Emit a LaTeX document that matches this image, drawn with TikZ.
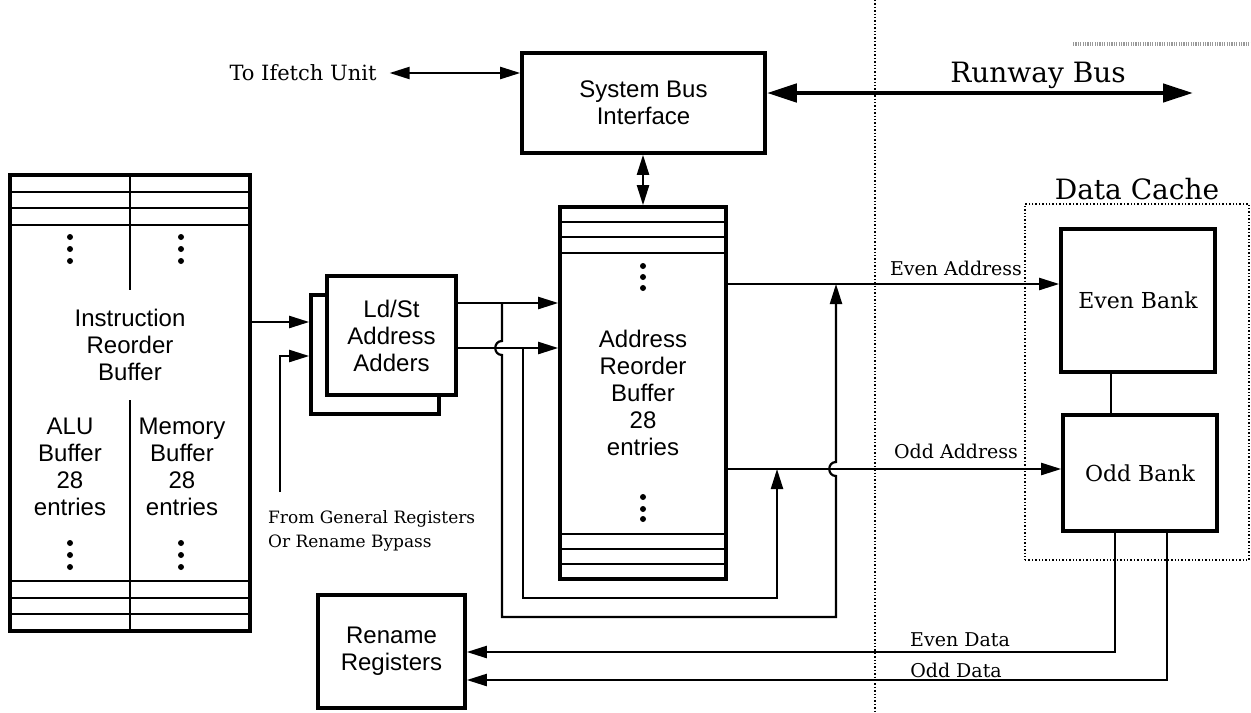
\documentclass[tikz,border=0pt]{standalone}
\usepackage{fontspec}
\setmainfont{DejaVu Serif}
\newfontfamily\helv{Liberation Sans}
\usetikzlibrary{arrows.meta}

\tikzset{
    txt/.style={align=center, font=\helv\fontsize{12}{13.5}\selectfont},
    box/.style={txt, draw, line width=1.8pt, fill=white, inner sep=0pt},
    lbl/.style={font=\fontsize{9.5}{11}\selectfont, inner sep=1pt},
    bigarrow/.style={line width=2.3pt,
        {Triangle[length=15pt,width=9pt]}-{Triangle[length=15pt,width=9pt]}}
}

\begin{document}
\begin{tikzpicture}[
    x=0.5pt, y=-0.5pt,
    >={Triangle[length=10pt,width=6pt]},
    line width=1.1pt
]
\useasboundingbox (0,0) rectangle (1251,712);

\def\rr{1.5pt}

% chip boundary
\draw[densely dotted, line width=0.7pt] (875,0) -- (875,712);
\draw[gray!80, line width=2pt, dash pattern=on 0.6pt off 0.6pt] (1073,44) -- (1251,44);

% Instruction reorder buffer
\node[box, minimum width=120pt, minimum height=228pt] (irb) at (130,403) {};
\foreach \y in {192,208,225,581,598,614}
    \draw (irb.west |- 0,\y) -- (irb.east |- 0,\y);
\draw (irb.north) -- (irb.north |- 0,290);
\draw (irb.south) -- (irb.south |- 0,400);
\foreach \x in {70,181}
    \foreach \y in {237,249,261,543,555,567}
        \fill (\x,\y) circle (\rr);
\node[txt] (irbtxt) at (130,345) {Instruction\\Reorder\\Buffer};
\node[txt] (alutxt) at (70,467) {ALU\\Buffer\\28\\entries};
\node[txt] (memtxt) at (182,467) {Memory\\Buffer\\28\\entries};

% Ld/St adders
\node[box, minimum width=64pt, minimum height=59.5pt] (ldstb) at (375,354.5) {};
\node[box, minimum width=64.5pt, minimum height=59.5pt] (ldst) at (391.5,335.5) {Ld/St\\Address\\Adders};

% Address reorder buffer
\node[box, minimum width=83pt, minimum height=186pt] (arb) at (643,393) {Address\\Reorder\\Buffer\\28\\entries};
\foreach \y in {222,237,253,534,549,564}
    \draw (arb.west |- 0,\y) -- (arb.east |- 0,\y);
\foreach \y in {266,277,288,497,509,519}
    \fill (643,\y) circle (\rr);

% System bus, rename
\node[box, minimum width=121.5pt, minimum height=50pt] (sbi) at (643.5,103) {System Bus\\Interface};
\node[box, minimum width=73.5pt, minimum height=56.5pt] (ren) at (391.5,651.5) {Rename\\Registers};

% Data cache
\node[draw, densely dotted, line width=0.7pt, minimum width=112pt, minimum height=178pt] (dc) at (1137,382) {};
\node[font=\fontsize{14}{16}\selectfont, anchor=base] (dctxt) at (1137,199) {Data Cache};
\node[box, font=\fontsize{11}{13}\selectfont, minimum width=77pt, minimum height=71.5pt] (even) at (1138,300.5) {Even Bank};
\node[box, font=\fontsize{11}{13}\selectfont, minimum width=77pt, minimum height=58pt] (odd) at (1140,473) {Odd Bank};

% Labels
\node[lbl, font=\fontsize{10.5}{12}\selectfont] (ifu) at (303,73) {To Ifetch Unit};
\node[font=\fontsize{14}{16}\selectfont, anchor=base] (rwytxt) at (1038,82) {Runway Bus};
\node[lbl, font=\fontsize{8.5}{12}\selectfont, align=left, anchor=north west] (grtxt) at (265,507) {From General Registers\\Or Rename Bypass};
\node[lbl] (eatxt) at (956,268) {Even Address};
\node[lbl] (oatxt) at (956,451) {Odd Address};
\node[lbl] (edtxt) at (960,640) {Even Data};
\node[lbl] (odtxt) at (956,670) {Odd Data};

% wire levels
\coordinate (rwy) at (1193,93);
\coordinate (in1) at (0,322);
\coordinate (in2) at (0,356);
\coordinate (gr) at (280,492);
\coordinate (a1) at (0,303);
\coordinate (a2) at (0,348);
\coordinate (tap1) at (502,303);
\coordinate (tap2) at (523,348);
\coordinate (ea) at (0,284);
\coordinate (oa) at (0,469);
\coordinate (tip1) at (836,284);
\coordinate (tip2) at (777,469);
\coordinate (ed) at (0,652);
\coordinate (od) at (0,680);

% Buses
\draw[bigarrow] (sbi.east |- rwy) -- (rwy);
\draw[<->, shorten <=5pt] (ifu.east) -- (sbi.west |- ifu.east);
\draw[<->] (sbi.south -| arb.north) -- (arb.north);

% Into the adders
\draw[->] (irb.east |- in1) -- (ldstb.west |- in1);
\draw[->] (gr) |- (ldstb.west |- in2);

% Out of the adders
\draw[->] (ldst.east |- a1) -- (arb.west |- a1);
\draw[->] (ldst.east |- a2) -- (arb.west |- a2);
\draw[->] (tap1) -- (502,341) .. controls (493,341) and (493,355) .. (502,355)
      -- (502,617) -- (836,617) -- (836,476)
      .. controls (827,476) and (827,462) .. (836,462) -- (tip1);
\draw[->] (tap2) -- (523,598) -| (tip2);

% Addresses to the banks
\draw[->] (arb.east |- ea) -- (even.west |- ea);
\draw[->] (arb.east |- oa) -- (odd.west |- oa);
\draw ([xshift=-13.5pt]even.south) -- ([xshift=-13.5pt]even.south |- odd.north);

% Data back
\draw[->] ([xshift=-12.5pt]odd.south) |- (ren.east |- ed);
\draw[->] ([xshift=13.5pt]odd.south) |- (ren.east |- od);

\end{tikzpicture}
\end{document}
